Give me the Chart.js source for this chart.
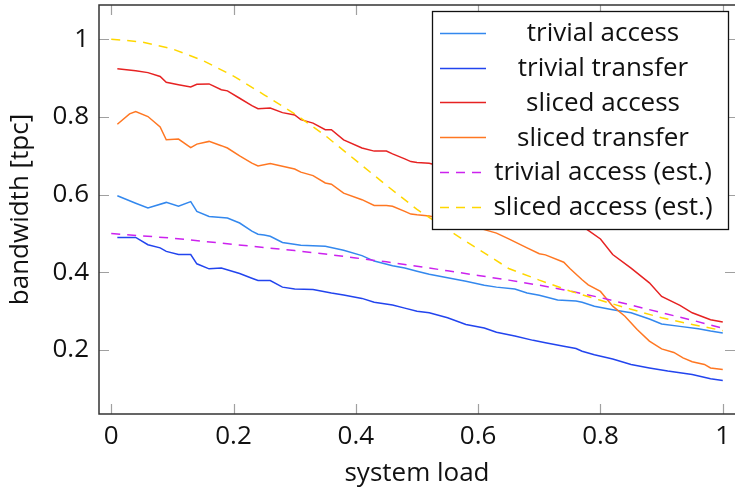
<!DOCTYPE html>
<html>
<head>
<meta charset="utf-8">
<script src="https://cdn.jsdelivr.net/npm/chart.js@4.4.1/dist/chart.umd.min.js"></script>
<style>
  html, body { margin: 0; padding: 0; background: #ffffff; }
  #wrap { width: 735px; height: 492px; position: relative; }
</style>
</head>
<body>
<div id="wrap"><canvas id="chart"></canvas></div>
<script>
// Measured bandwidth per system load (x = load, y = bandwidth in tpc)
const trivialAccessX = [0.01,0.04,0.06,0.09,0.11,0.13,0.14,0.16,0.19,0.21,0.23,0.24,0.25,0.26,0.28,0.31,0.35,0.38,0.41,0.43,0.46,0.48,0.50,0.52,0.55,0.58,0.61,0.63,0.66,0.68,0.70,0.73,0.76,0.77,0.79,0.82,0.85,0.88,0.90,0.93,0.96,0.98,1.00];
const trivialAccessY = [0.597,0.578,0.566,0.580,0.570,0.582,0.557,0.544,0.540,0.527,0.506,0.498,0.496,0.493,0.477,0.470,0.467,0.457,0.443,0.429,0.417,0.411,0.403,0.395,0.386,0.377,0.367,0.362,0.357,0.347,0.341,0.329,0.326,0.323,0.313,0.304,0.296,0.280,0.267,0.261,0.255,0.249,0.244];

const trivialTransferX = [0.01,0.04,0.06,0.08,0.09,0.11,0.13,0.14,0.16,0.18,0.21,0.23,0.24,0.26,0.28,0.30,0.33,0.36,0.38,0.41,0.43,0.46,0.48,0.50,0.52,0.55,0.58,0.61,0.63,0.66,0.69,0.71,0.74,0.76,0.77,0.79,0.82,0.85,0.88,0.91,0.95,0.98,1.00];
const trivialTransferY = [0.490,0.490,0.471,0.463,0.454,0.446,0.446,0.422,0.409,0.411,0.397,0.385,0.379,0.379,0.362,0.357,0.356,0.347,0.342,0.333,0.323,0.316,0.308,0.300,0.296,0.283,0.266,0.257,0.246,0.236,0.225,0.219,0.210,0.204,0.197,0.188,0.177,0.163,0.154,0.146,0.137,0.126,0.122];

const slicedAccessX = [0.01,0.04,0.06,0.08,0.09,0.11,0.13,0.14,0.16,0.18,0.19,0.21,0.23,0.24,0.26,0.28,0.30,0.31,0.33,0.35,0.36,0.38,0.41,0.43,0.45,0.46,0.48,0.49,0.50,0.52,0.55,0.60,0.65,0.70,0.75,0.78,0.80,0.82,0.85,0.88,0.90,0.93,0.95,0.98,1.00];
const slicedAccessY = [0.924,0.919,0.914,0.904,0.889,0.883,0.877,0.884,0.885,0.870,0.867,0.848,0.829,0.821,0.823,0.811,0.805,0.793,0.784,0.767,0.767,0.741,0.720,0.712,0.712,0.705,0.692,0.685,0.683,0.681,0.668,0.645,0.615,0.580,0.540,0.508,0.486,0.446,0.411,0.373,0.338,0.315,0.296,0.278,0.272];

const slicedTransferX = [0.01,0.03,0.04,0.06,0.08,0.09,0.11,0.13,0.14,0.16,0.18,0.19,0.21,0.23,0.24,0.26,0.28,0.30,0.31,0.33,0.35,0.36,0.38,0.41,0.43,0.45,0.46,0.48,0.49,0.50,0.52,0.55,0.58,0.61,0.63,0.65,0.68,0.70,0.71,0.74,0.75,0.77,0.78,0.80,0.82,0.84,0.86,0.88,0.90,0.92,0.935,0.95,0.97,0.98,1.00];
const slicedTransferY = [0.781,0.808,0.814,0.801,0.774,0.741,0.743,0.721,0.730,0.737,0.726,0.720,0.700,0.681,0.674,0.680,0.673,0.666,0.658,0.649,0.630,0.627,0.604,0.587,0.572,0.572,0.570,0.557,0.550,0.548,0.545,0.535,0.522,0.510,0.501,0.486,0.463,0.448,0.445,0.426,0.410,0.381,0.368,0.351,0.313,0.287,0.253,0.223,0.203,0.194,0.180,0.170,0.163,0.154,0.150];

// Model estimates, sampled every 0.05 of load
const estLoad = [0,0.05,0.10,0.15,0.20,0.25,0.30,0.35,0.40,0.45,0.50,0.55,0.60,0.65,0.70,0.75,0.80,0.85,0.90,0.95,1.00];
const trivialEstY = [0.500,0.494,0.488,0.480,0.472,0.464,0.456,0.447,0.437,0.427,0.416,0.404,0.392,0.380,0.367,0.352,0.335,0.316,0.296,0.277,0.256];
const slicedEstY  = [1.000,0.993,0.975,0.945,0.905,0.857,0.808,0.752,0.688,0.624,0.562,0.510,0.460,0.410,0.380,0.352,0.328,0.305,0.283,0.266,0.250];

const xTickValues = [0,0.2,0.4,0.6,0.8,1];
const xTickLabels = ['0','0.2','0.4','0.6','0.8','1'];
const yTickValues = [0.2,0.4,0.6,0.8,1];
const yTickLabels = ['0.2','0.4','0.6','0.8','1'];

const seriesLabels = ['trivial access','trivial transfer','sliced access','sliced transfer','trivial access (est.)','sliced access (est.)'];
const seriesColors = ['#3388ee','#2244ee','#e62222','#ff7722','#cc22ee','#ffd700'];

const FONT = '"Open Sans", "Noto Sans", sans-serif';
const FONT_SIZE = 26;

function pairs(xs, ys) { return xs.map((x, i) => ({ x: x, y: ys[i] })); }

const seriesData = [
  pairs(trivialAccessX, trivialAccessY),
  pairs(trivialTransferX, trivialTransferY),
  pairs(slicedAccessX, slicedAccessY),
  pairs(slicedTransferX, slicedTransferY),
  pairs(estLoad, trivialEstY),
  pairs(estLoad, slicedEstY)
];
const dashed = [false, false, false, false, true, true];
const DASH = [9, 7];

const datasets = seriesData.map((d, i) => ({
  label: seriesLabels[i],
  data: d,
  borderColor: seriesColors[i],
  backgroundColor: seriesColors[i],
  borderWidth: 1.5,
  borderDash: dashed[i] ? DASH : [],
  pointRadius: 0,
  tension: 0,
  fill: false,
  order: seriesData.length - i
}));

// Axis frame (its right side runs past the canvas edge), inward ticks, boxed legend
const framePlugin = {
  id: 'frame',
  afterDatasetsDraw(chart) {
    const { ctx, chartArea: a, scales: { x, y } } = chart;
    const W = chart.width;
    ctx.save();
    ctx.strokeStyle = '#a0a0a0';
    ctx.lineWidth = 1.2;
    const tl = 10;
    xTickValues.forEach(v => {
      const px = Math.round(x.getPixelForValue(v)) + 0.5;
      ctx.beginPath();
      ctx.moveTo(px, a.bottom); ctx.lineTo(px, a.bottom - tl);
      ctx.moveTo(px, a.top); ctx.lineTo(px, a.top + tl);
      ctx.stroke();
    });
    yTickValues.forEach(v => {
      const py = Math.round(y.getPixelForValue(v)) + 0.5;
      ctx.beginPath();
      ctx.moveTo(a.left, py); ctx.lineTo(a.left + tl, py);
      ctx.moveTo(W, py); ctx.lineTo(W - tl, py);
      ctx.stroke();
    });
    ctx.strokeStyle = '#333333';
    ctx.lineWidth = 1.5;
    ctx.beginPath();
    ctx.moveTo(W, a.top); ctx.lineTo(a.left, a.top);
    ctx.lineTo(a.left, a.bottom); ctx.lineTo(W, a.bottom);
    ctx.stroke();

    // legend
    const box = { left: 432, top: 11, right: 728, bottom: 229 };
    ctx.fillStyle = '#ffffff';
    ctx.fillRect(box.left, box.top, box.right - box.left, box.bottom - box.top);
    ctx.strokeStyle = '#111111';
    ctx.lineWidth = 1.3;
    ctx.strokeRect(box.left + 0.5, box.top + 0.5, box.right - box.left, box.bottom - box.top);
    ctx.font = FONT_SIZE + 'px ' + FONT;
    ctx.textAlign = 'center';
    ctx.textBaseline = 'middle';
    chart.data.datasets.forEach((ds, i) => {
      const cy = 32.7 + i * 34.8;
      ctx.strokeStyle = ds.borderColor;
      ctx.lineWidth = 1.5;
      ctx.setLineDash(ds.borderDash || []);
      ctx.beginPath();
      ctx.moveTo(440, Math.round(cy) + 0.5);
      ctx.lineTo(486, Math.round(cy) + 0.5);
      ctx.stroke();
      ctx.setLineDash([]);
      ctx.fillStyle = '#111111';
      ctx.fillText(ds.label, 603, cy + 1);
    });
    ctx.restore();
  }
};

new Chart(document.getElementById('chart'), {
  type: 'line',
  data: { datasets: datasets },
  options: {
    responsive: true,
    maintainAspectRatio: false,
    animation: false,
    devicePixelRatio: 1,
    layout: { padding: { top: 5, right: 0, bottom: 0, left: 0 } },
    plugins: { legend: { display: false }, tooltip: { enabled: false } },
    scales: {
      x: {
        type: 'linear',
        min: -0.02,
        max: 1.02,
        afterBuildTicks: s => { s.ticks = xTickValues.map(v => ({ value: v })); },
        afterFit: s => { s.height = 78; s.paddingLeft = 0; s.paddingRight = 0; },
        grid: { display: false, drawTicks: false },
        border: { display: false },
        ticks: {
          padding: 7,
          maxRotation: 0,
          autoSkip: false,
          color: '#111111',
          font: { family: FONT, size: FONT_SIZE },
          callback: (v, i) => xTickLabels[i]
        },
        title: {
          display: true,
          text: 'system load',
          color: '#111111',
          font: { family: FONT, size: FONT_SIZE },
          padding: { top: 0, bottom: 3 }
        }
      },
      y: {
        type: 'linear',
        min: 0.0355,
        max: 1.088,
        afterBuildTicks: s => { s.ticks = yTickValues.map(v => ({ value: v })); },
        afterFit: s => { s.width = 99; s.paddingTop = 0; s.paddingBottom = 0; },
        grid: { display: false, drawTicks: false },
        border: { display: false },
        ticks: {
          padding: 10,
          autoSkip: false,
          color: '#111111',
          font: { family: FONT, size: FONT_SIZE },
          callback: (v, i) => yTickLabels[i]
        },
        title: {
          display: true,
          text: 'bandwidth [tpc]',
          color: '#111111',
          font: { family: FONT, size: FONT_SIZE },
          padding: { top: 5, bottom: 0 }
        }
      }
    }
  },
  plugins: [framePlugin]
});
</script>
</body>
</html>
